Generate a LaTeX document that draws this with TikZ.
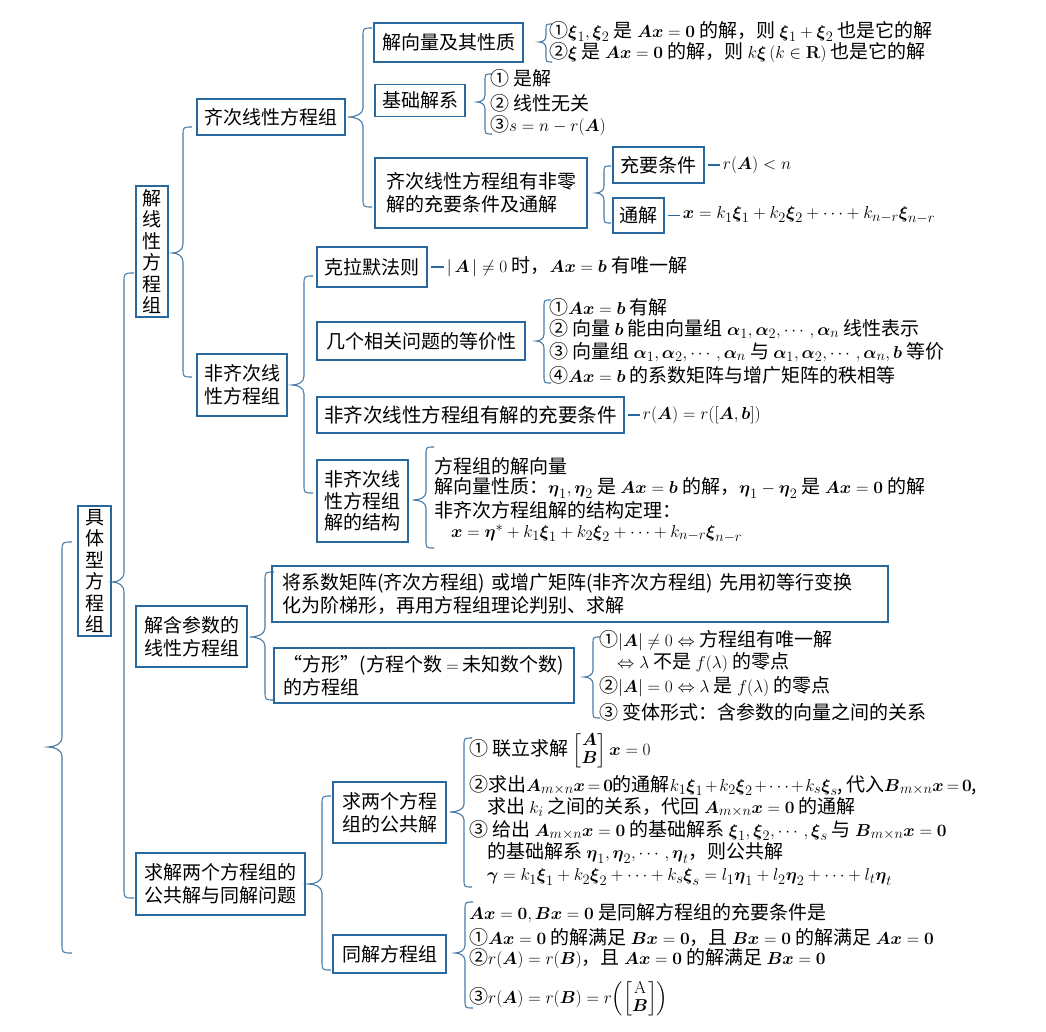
\documentclass[tikz,border=0pt]{standalone}
\usepackage{amsmath,amssymb}
\usepackage[no-math]{fontspec}
\setmainfont{Noto Sans CJK SC}
\newcommand\vA{\boldsymbol{A}}
\newcommand\vB{\boldsymbol{B}}
\newcommand\vx{\boldsymbol{x}}
\newcommand\vb{\boldsymbol{b}}
\newcommand\vzero{\mathbf{0}}
\newcommand\vxi{\boldsymbol{\xi}}
\newcommand\veta{\boldsymbol{\eta}}
\newcommand\valpha{\boldsymbol{\alpha}}
\newcommand\vgamma{\boldsymbol{\gamma}}
\newcommand\fs{\fontsize{19}{23}\selectfont}
\newcommand\fsv{\fontsize{19}{21.5}\selectfont}
\newcommand\tightmath{\medmuskip=2mu\thickmuskip=3mu}
\definecolor{boxblue}{RGB}{40,104,158}
\definecolor{bracecol}{RGB}{72,124,168}
\tikzset{
 box/.style={draw=boxblue, line width=1.4pt, inner sep=0pt, align=center, font=\fs},
 vbox/.style={draw=boxblue, line width=1.4pt, inner sep=0pt, align=center, font=\fsv},
 txt/.style={inner sep=0pt, anchor=west, font=\fs},
 ctxt/.style={inner sep=3pt, anchor=west, font=\fs},
 brace/.style={draw=bracecol, line width=1.1pt},
 conn/.style={draw=boxblue, line width=1.2pt, shorten <=3.5pt},
}
% x, top, mid, bottom, tip x, radius
\newcommand\mybrace[6]{%
 \draw[brace] ({#1+#6},#2) .. controls (#1,#2) .. (#1,{#2+#6})
   -- (#1,{#3-#6})
   .. controls (#1,{#3-0.3*#6}) and ({#5+0.5*(#1-#5)},#3) .. (#5,#3)
   .. controls ({#5+0.5*(#1-#5)},#3) and (#1,{#3+0.3*#6}) .. (#1,{#3+#6})
   -- (#1,{#4-#6}) .. controls (#1,#4) .. ({#1+#6},#4);}
\begin{document}
\begin{tikzpicture}[x=1pt,y=-1pt]
\fill[white] (0,0) rectangle (1046,1032);
\useasboundingbox (0,0) rectangle (1046,1032);

% ---------- left levels ----------
\node[vbox, minimum width=33pt, minimum height=130pt] (root) at (94.5,571) {具\\体\\型\\方\\程\\组};
\node[vbox, minimum width=32pt, minimum height=131pt] (jx) at (152,251.5) {解\\线\\性\\方\\程\\组};
\node[box, minimum width=148pt, minimum height=36pt] (qc) at (271,117) {齐次线性方程组};
\node[box, minimum width=90pt, minimum height=62pt] (fqc) at (242,385) {非齐次线\\性方程组};
\node[box, minimum width=111pt, minimum height=61pt] (hc) at (191.5,636.5) {解含参数的\\线性方程组};
\node[box, minimum width=169pt, minimum height=62pt] (gj) at (220.5,884) {求解两个方程组的\\公共解与同解问题};

\mybrace{62}{542}{747}{953}{48}{10}
\mybrace{124}{273}{582}{898}{112}{10}
\mybrace{183}{127}{253}{377}{172}{9}
\mybrace{363}{28}{117}{207}{348}{9}
\mybrace{304}{276}{385}{493}{292}{9}
\mybrace{265}{572}{637}{700}{250}{9}
\mybrace{322}{796}{884}{970}{308}{9}

% ---------- homogeneous ----------
\node[box, minimum width=149pt, minimum height=39pt] (jxl) at (448.5,42.5) {解向量及其性质};
\mybrace{546}{24}{42}{62}{539}{6}
\node[txt] (a1) at (549,31) {①$\vxi_1,\vxi_2$ 是 $\vA\vx=\vzero$ 的解，则 $\vxi_1+\vxi_2$ 也是它的解};
\node[txt] (a2) at (549,53) {②$\vxi$ 是 $\vA\vx=\vzero$ 的解，则 $k\vxi\,(k\in\mathbf{R})$ 也是它的解};

\node[box, minimum width=90pt, minimum height=32pt] (jc) at (420,100.5) {基础解系};
\mybrace{485}{74}{102}{134}{477}{7}
\node[txt] (b1) at (490,78) {① 是解};
\node[txt] (b2) at (490,103) {② 线性无关};
\node[txt] (b3) at (490,126) {③$s=n-r(\vA)$};

\node[box, minimum width=212pt, minimum height=70pt, align=left] (fl) at (481,193) {齐次线性方程组有非零\\解的充要条件及通解};
\mybrace{604}{166}{193}{223}{596}{7}
\node[box, minimum width=91pt, minimum height=36pt] (cy) at (658.5,165) {充要条件};
\node[ctxt] (cyt) at ([xshift=15pt]cy.east) {$r(\vA)<n$};
\draw[conn] (cy.east) -- (cyt.west);
\node[box, minimum width=51pt, minimum height=35pt] (tj) at (638.5,215.5) {通解};
\node[ctxt] (tjt) at ([xshift=15pt]tj.east) {$\vx=k_1\vxi_1+k_2\vxi_2+\cdots+k_{n-r}\vxi_{n-r}$};
\draw[conn] (tj.east) -- (tjt.west);

% ---------- non-homogeneous ----------
\node[box, minimum width=110pt, minimum height=40pt] (klm) at (372,267) {克拉默法则};
\node[ctxt] (klmt) at ([xshift=16pt]klm.east) {$|\,\vA\,|\neq 0$ 时，$\vA\vx=\vb$ 有唯一解};
\draw[conn] (klm.east) -- (klmt.west);

\node[box, minimum width=208pt, minimum height=38pt] (dj) at (421,341) {几个相关问题的等价性};
\mybrace{544}{300}{341}{383}{536}{7}
\node[txt] (c1) at (549,307) {①$\vA\vx=\vb$ 有解};
\node[txt] (c2) at (549,329) {② 向量 $\vb$ 能由向量组 $\valpha_1,\valpha_2,\cdots,\valpha_n$ 线性表示};
\node[txt] (c3) at (549,352) {③ 向量组 $\valpha_1,\valpha_2,\cdots,\valpha_n$ 与 $\valpha_1,\valpha_2,\cdots,\valpha_n,\vb$ 等价};
\node[txt] (c4) at (549,375) {④$\vA\vx=\vb$ 的系数矩阵与增广矩阵的秩相等};

\node[box, minimum width=307pt, minimum height=36pt, font=\fontsize{19.5}{23}\selectfont] (fcy) at (470.5,415) {非齐次线性方程组有解的充要条件};
\node[ctxt] (fcyt) at ([xshift=15pt]fcy.east) {$r(\vA)=r([\vA,\vb])$};
\draw[conn] (fcy.east) -- (fcyt.west);

\node[vbox, minimum width=91pt, minimum height=82pt] (jg) at (362.5,501) {非齐次线\\性方程组\\解的结构};
\mybrace{426}{447}{500}{548}{413}{8}
\node[txt] (d1) at (434,466) {方程组的解向量};
\node[txt] (d2) at (434,488) {解向量性质：$\veta_1,\veta_2$ 是 $\vA\vx=\vb$ 的解，$\veta_1-\veta_2$ 是 $\vA\vx=\vzero$ 的解};
\node[txt] (d3) at (434,510.5) {非齐次方程组解的结构定理：};
\node[txt] (d4) at (451,533.5) {$\vx=\veta^*+k_1\vxi_1+k_2\vxi_2+\cdots+k_{n-r}\vxi_{n-r}$};

% ---------- parameters ----------
\node[box, inner xsep=10pt, text width=596pt, align=left, minimum height=56pt] (jt) at (580,594) {将系数矩阵(齐次方程组) 或增广矩阵(非齐次方程组) 先用初等行变换\\化为阶梯形，再用方程组理论判别、求解};
\node[box, minimum width=300pt, minimum height=55pt, align=left] (fx) at (424,675.5) {“方形”(方程个数 $=$ 未知数个数)\\的方程组};
\mybrace{593}{637}{677}{718}{584}{7}
\node[txt] (e1) at (599,641) {①$|\vA|\neq 0\Leftrightarrow$ 方程组有唯一解};
\node[txt] (e2) at (617,663) {$\Leftrightarrow\lambda$ 不是 $f(\lambda)$ 的零点};
\node[txt] (e3) at (599,687) {②$|\vA|=0\Leftrightarrow\lambda$ 是 $f(\lambda)$ 的零点};
\node[txt] (e4) at (599,712) {③ 变体形式：含参数的向量之间的关系};

% ---------- common solutions ----------
\node[box, minimum width=113pt, minimum height=61pt] (gg) at (389.5,812.5) {求两个方程\\组的公共解};
\mybrace{464}{738}{812}{887}{450}{8}
\node[txt] (f1) at (469,751) {① 联立求解 $\renewcommand\arraystretch{0.8}\begin{bmatrix}\vA\\ \vB\end{bmatrix}\vx=0$};
\node[txt] (f2) at (469,785) {②求出$\tightmath\vA_{m\times n}\vx=\vzero$的通解$\tightmath k_1\vxi_1+k_2\vxi_2+\cdots+k_s\vxi_s$,\,代入$\tightmath\vB_{m\times n}\vx=\vzero$,};
\node[txt] (f3) at (487,807) {求出 $k_i$ 之间的关系，代回 $\vA_{m\times n}\vx=\vzero$ 的通解};
\node[txt] (f4) at (469,830) {③ 给出 $\vA_{m\times n}\vx=\vzero$ 的基础解系 $\vxi_1,\vxi_2,\cdots,\vxi_s$ 与 $\vB_{m\times n}\vx=\vzero$};
\node[txt] (f5) at (487,853) {的基础解系 $\veta_1,\veta_2,\cdots,\veta_t$，则公共解};
\node[txt] (f6) at (487,877) {$\vgamma=k_1\vxi_1+k_2\vxi_2+\cdots+k_s\vxi_s=l_1\veta_1+l_2\veta_2+\cdots+l_t\veta_t$};

\node[box, minimum width=113pt, minimum height=38pt] (tf) at (389.5,954) {同解方程组};
\mybrace{465}{902}{953}{1008}{455}{8}
\node[txt] (g1) at (469,913) {$\vA\vx=\vzero,\vB\vx=\vzero$ 是同解方程组的充要条件是};
\node[txt] (g2) at (469,937) {①$\vA\vx=\vzero$ 的解满足 $\vB\vx=\vzero$，且 $\vB\vx=\vzero$ 的解满足 $\vA\vx=\vzero$};
\node[txt] (g3) at (469,959) {②$r(\vA)=r(\vB)$，且 $\vA\vx=\vzero$ 的解满足 $\vB\vx=\vzero$};
\node[txt] (g4) at (469,999) {③$r(\vA)=r(\vB)=r\Bigl(\renewcommand\arraystretch{0.8}\begin{bmatrix}\mathrm{A}\\ \vB\end{bmatrix}\Bigr)$};
\end{tikzpicture}
\end{document}
